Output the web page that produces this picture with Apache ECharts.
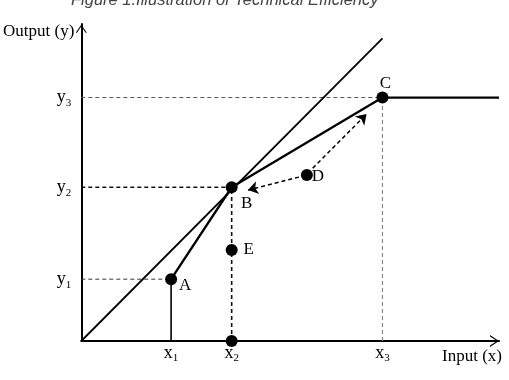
<!DOCTYPE html>
<html>
<head>
<meta charset="utf-8">
<script src="https://cdn.jsdelivr.net/npm/echarts@6/dist/echarts.min.js"></script>
<style>
  html, body { margin: 0; padding: 0; background: #fff; }
  #chart { width: 509px; height: 380px; }
</style>
</head>
<body>
<div id="chart"></div>
<script>
// points (axis units 0..10 on both axes)
const pointNames = ['A', 'B', 'C', 'D', 'E'];
const pointX = [2.15, 3.60, 7.21, 5.40, 3.60];
const pointY = [1.95, 4.85, 7.68, 5.24, 2.87];

// constant returns ray from the origin
const rayX = [0, 7.21];
const rayY = [0, 9.55];

// frontier A -> B -> C -> flat
const frontierX = [2.15, 3.60, 7.21, 10];
const frontierY = [1.95, 4.85, 7.68, 7.68];

// dashed arrows leaving D
const arrowToB = [[5.21, 5.17], [3.99, 4.76]];
const arrowToC = [[5.54, 5.45], [6.83, 7.16]];

// tick labels (letter + subscript)
const xTickValues = [2.15, 3.60, 7.21];
const xTickNames = [['x', '1'], ['x', '2'], ['x', '3']];
const yTickValues = [1.95, 4.85, 7.68];
const yTickNames = [['y', '1'], ['y', '2'], ['y', '3']];

const serif = 'Liberation Serif';
const chevron = 'path://M6,0 L12,9 L10.6,9 L6,2 L1.4,9 L0,9 Z';

// label offsets from each point's centre
const labelOffsets = { A: [14, 6], B: [15, 16], C: [3, -14], D: [11, 2], E: [17, 0] };

function tickFormatter(values, names) {
  return function(value) {
    let i = values.findIndex(v => Math.abs(v - value) < 1e-6);
    if (i < 0) { return ''; }
    return '{m|' + names[i][0] + '}{s|' + names[i][1] + '}';
  };
}

const tickRich = {
  m: { fontFamily: serif, fontSize: 18, color: '#000', verticalAlign: 'top', lineHeight: 18 },
  s: { fontFamily: serif, fontSize: 11, color: '#000', verticalAlign: 'top', lineHeight: 11, padding: [9, 0, 0, 0] }
};

function seg(x0, y0, x1, y1) { return [[x0, y0], [x1, y1]]; }

function guide(data, color, width, dashed) {
  return {
    type: 'line', data: data, symbol: 'none', silent: true,
    lineStyle: { color: color, width: width, type: dashed ? [4, 3] : 'solid' },
    z: 1
  };
}

const iA = 0, iB = 1, iC = 2;

const option = {
  animation: false,
  title: {
    text: 'Figure 1:Illustration of Technical Efficiency',
    left: 66, top: -13,
    textStyle: { fontFamily: 'Liberation Sans', fontStyle: 'italic', fontWeight: 'normal', fontSize: 16.5, color: '#444' }
  },
  grid: { left: 79, right: 10, top: 24, bottom: 39 },
  xAxis: {
    type: 'value', min: 0, max: 10,
    name: 'Input (x)', nameLocation: 'end', nameGap: 3,
    nameTextStyle: { fontFamily: serif, fontSize: 17, color: '#000', align: 'right', verticalAlign: 'top', padding: [7, 0, 0, 0] },
    axisLine: { show: true, symbol: ['none', chevron], symbolSize: [12, 9], symbolOffset: [0, -4.5], lineStyle: { color: '#000', width: 2.2 } },
    axisTick: { show: false },
    splitLine: { show: false },
    axisLabel: { customValues: xTickValues, margin: 3, formatter: tickFormatter(xTickValues, xTickNames), rich: tickRich }
  },
  yAxis: {
    type: 'value', min: 0, max: 10,
    name: 'Output (y)', nameLocation: 'end', nameGap: -8,
    nameTextStyle: { fontFamily: serif, fontSize: 17, color: '#000', align: 'right', verticalAlign: 'middle', padding: [0, 7, 0, 0] },
    axisLine: { show: true, symbol: ['none', chevron], symbolSize: [11, 9], symbolOffset: [0, -4.5], lineStyle: { color: '#000', width: 2 } },
    axisTick: { show: false },
    splitLine: { show: false },
    axisLabel: { customValues: yTickValues, margin: 10, formatter: tickFormatter(yTickValues, yTickNames), rich: tickRich }
  },
  series: [
    // drop lines to the axes
    guide(seg(0, pointY[iA], pointX[iA], pointY[iA]), '#333', 1, true),
    guide(seg(0, pointY[iB], pointX[iB], pointY[iB]), '#111', 1.6, true),
    guide(seg(0, pointY[iC], pointX[iC], pointY[iC]), '#555', 1, true),
    guide(seg(pointX[iB], 0, pointX[iB], pointY[iB]), '#111', 1.6, true),
    guide(seg(pointX[iC], 0, pointX[iC], pointY[iC]), '#888', 1.2, true),
    guide(seg(pointX[iA], 0, pointX[iA], pointY[iA]), '#000', 1.6, false),
    {
      type: 'line', data: rayX.map((x, i) => [x, rayY[i]]), symbol: 'none', silent: true,
      lineStyle: { color: '#000', width: 1.8 }, z: 2
    },
    {
      type: 'line', data: frontierX.map((x, i) => [x, frontierY[i]]), symbol: 'none', silent: true,
      lineStyle: { color: '#000', width: 2.3 }, z: 2
    },
    {
      type: 'lines', coordinateSystem: 'cartesian2d', silent: true,
      symbol: ['none', 'arrow'], symbolSize: 10,
      lineStyle: { color: '#000', width: 1.5, type: [4, 3], opacity: 1 },
      data: [{ coords: arrowToB }, { coords: arrowToC }],
      z: 3
    },
    {
      type: 'scatter', symbolSize: 12, silent: true,
      itemStyle: { color: '#000', opacity: 1 },
      data: pointNames.map((n, i) => ({
        value: [pointX[i], pointY[i]],
        name: n,
        label: { offset: labelOffsets[n] }
      })).concat([{ value: [pointX[iB], 0], name: '', label: { show: false } }]),
      label: {
        show: true, position: 'inside', formatter: '{b}',
        fontFamily: serif, fontSize: 17, color: '#000'
      },
      z: 4
    }
  ]
};

let chart = echarts.init(document.getElementById('chart'));
chart.setOption(option);
</script>
</body>
</html>
